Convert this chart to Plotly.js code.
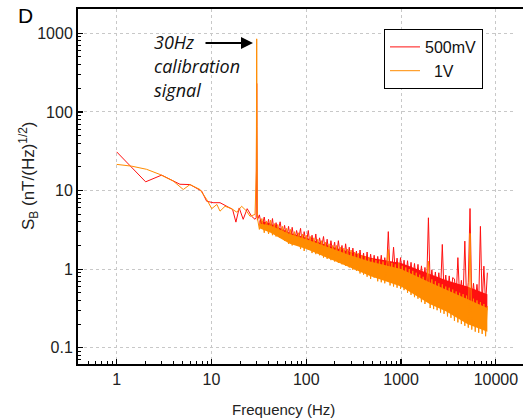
<!DOCTYPE html>
<html>
<head>
<meta charset="utf-8">
<script src="https://cdn.plot.ly/plotly-3.0.1.min.js"></script>
<style>
html,body{margin:0;padding:0;overflow:hidden;background:#fff;}
#chart{width:523px;height:419px;}
</style>
</head>
<body>
<div id="chart"></div>
<script>
// ---- data ----
const seriesNames = ["500mV", "1V"];

// low-frequency part, 500mV
const f500Low  = [1, 2.02, 2.98, 4.65, 5.93, 7.87, 8.9, 10.4, 12.3, 13.9, 15.7, 16.7, 18.1, 19.6, 21.6, 23.8, 26.5, 28.8, 29.6, 30.0, 30.15, 30.5];
const sb500Low = [31, 12.9, 15.7, 12, 11.9, 9.85, 7.3, 7.0, 7.0, 6.45, 6.0, 5.75, 3.96, 6.0, 4.3, 5.87, 4.7, 4.3, 4.5, 230, 65, 4.2];

// low-frequency part, 1V
const f1VLow  = [1, 1.44, 2.07, 2.86, 3.95, 5.04, 5.93, 7.56, 8.9, 10.06, 11.4, 12.3, 13.9, 16.3, 18.5, 20.8, 23.5, 25.5, 28.8, 29.7, 30.0, 30.1, 30.4];
const sb1VLow = [21.5, 20.4, 18.6, 16, 13.2, 10.3, 11.9, 10.3, 7.7, 5.87, 6.65, 5.46, 6.3, 5.87, 5.3, 6.3, 5.46, 4.7, 4.96, 18, 850, 240, 4.6];

// noise part (shared frequency list)
const fNoise = [32, 34, 36, 38, 40, 42, 44, 46, 48, 50,
  53, 56, 59, 62, 65, 68, 71, 75, 79, 83,
  87, 91, 95, 100, 105, 110, 115, 120, 126, 132,
  138, 145, 152, 159, 166, 174, 182, 190, 199, 208,
  218, 228, 238, 249, 260, 272, 284, 297, 310, 324,
  338, 353, 369, 385, 402, 420, 438, 457, 477, 498,
  520, 543, 567, 592, 618, 645, 673, 702, 733, 765,
  798, 833, 869, 907, 946, 987, 1030, 1075, 1121, 1170,
  1220, 1273, 1328, 1385, 1445, 1507, 1572, 1640, 1711, 1785,
  1862, 1942, 2026, 2113, 2204, 2299, 2398, 2501, 2609, 2721,
  2838, 2960, 3087, 3220, 3358, 3502, 3653, 3810, 3974, 4145,
  4323, 4509, 4703, 4905, 5116, 5336, 5565, 5804, 6054, 6314,
  6585, 6868, 7163, 7471, 7792, 8127];

const sb500Noise = [4.9, 3.4, 4.6, 3.1, 4.3, 3.0, 4.4, 2.8, 3.9, 2.9,
  4.0, 2.6, 3.6, 2.5, 3.5, 2.3, 3.4, 2.2, 3.1, 2.4,
  3.3, 2.0, 3.0, 2.1, 3.1, 1.9, 2.7, 1.8, 2.8, 1.7,
  2.5, 1.9, 2.6, 1.6, 2.4, 1.5, 2.3, 1.6, 2.2, 1.4,
  2.3, 1.5, 2.0, 1.3, 2.1, 1.35, 1.9, 1.2, 1.85, 1.25,
  1.7, 1.1, 1.75, 1.15, 1.6, 1.05, 1.65, 1.0, 1.55, 1.05,
  1.5, 0.95, 1.45, 1.0, 1.5, 0.92, 1.4, 0.95, 3.0, 0.9,
  0.95, 1.9, 0.92, 1.38, 0.85, 1.4, 0.82, 1.3, 0.8, 1.28,
  0.76, 1.22, 0.74, 1.18, 0.72, 1.15, 0.68, 1.1, 0.66, 1.05,
  0.63, 4.5, 0.62, 0.98, 0.58, 0.92, 0.55, 0.9, 0.52, 2.06,
  0.5, 0.84, 0.48, 0.82, 0.46, 0.78, 0.75, 0.44, 1.4, 0.43,
  0.72, 0.42, 2.27, 0.41, 0.68, 5.9, 0.39, 0.66, 0.38, 0.64,
  0.37, 3.5, 0.36, 1.09, 0.35, 0.9];

const sb1VNoise = [3.2, 4.4, 2.9, 4.1, 2.8, 4.2, 2.7, 3.8, 2.6, 3.7,
  2.5, 3.5, 2.3, 3.3, 2.1, 3.2, 2.0, 3.0, 2.1, 2.9,
  1.8, 2.8, 1.7, 2.7, 1.75, 2.6, 1.6, 2.5, 1.55, 2.4,
  1.5, 2.3, 1.4, 2.2, 1.35, 2.1, 1.3, 2.0, 1.25, 2.0,
  1.2, 1.9, 1.15, 1.85, 1.1, 1.8, 1.05, 1.75, 0.98, 1.65,
  0.95, 1.6, 0.88, 1.5, 0.85, 1.45, 0.8, 1.4, 0.75, 1.35,
  0.78, 1.3, 0.7, 1.28, 0.68, 1.25, 0.66, 1.2, 1.78, 0.62,
  1.2, 0.6, 1.15, 0.58, 1.2, 0.56, 1.1, 0.54, 1.05, 0.5,
  1.0, 0.47, 0.95, 0.44, 0.9, 0.42, 0.85, 0.38, 0.8, 0.36,
  0.78, 1.26, 0.32, 0.74, 0.31, 0.7, 0.3, 0.66, 0.28, 0.64,
  0.27, 0.6, 0.25, 0.58, 0.24, 0.55, 0.22, 0.52, 0.21, 0.5,
  0.2, 0.48, 0.19, 0.46, 0.18, 2.85, 0.17, 0.42, 0.16, 0.4,
  0.155, 0.38, 0.15, 0.36, 0.14, 0.34];

// dense inner part of each noise band (read envelope)
const fBand       = [32, 42, 67, 100, 180, 290, 470, 1000, 2000, 3000, 5000, 8127];
const sb500BandHi = [4.2, 3.8, 2.9, 2.5, 1.95, 1.65, 1.4, 1.2, 0.88, 0.72, 0.6, 0.48];
const sb500BandLo = [3.5, 3.0, 2.3, 2.0, 1.5, 1.2, 1.0, 0.85, 0.6, 0.5, 0.4, 0.3];
const sb1VBandHi  = [3.8, 3.6, 2.8, 2.4, 1.85, 1.5, 1.25, 1.0, 0.68, 0.55, 0.42, 0.32];
const sb1VBandLo  = [3.3, 2.9, 2.1, 1.8, 1.35, 1.05, 0.82, 0.6, 0.36, 0.29, 0.2, 0.16];

const xTickVals = [1, 10, 100, 1000, 10000];
const xTickText = ["1", "10", "100", "1000", "10000"];
const yTickVals = [0.1, 1, 10, 100, 1000];
const yTickText = ["0.1", "1", "10", "100", "1000"];
const minorDigits = [2, 3, 4, 5, 6, 7, 8, 9];
const xMinorVals = [0.1, 1, 10, 100, 1000].flatMap(d => minorDigits.map(m => m * d)).filter(v => v > 0.4 && v < 19000);
const yMinorVals = [0.01, 0.1, 1, 10, 100, 1000].flatMap(d => minorDigits.map(m => m * d)).filter(v => v > 0.063 && v < 2000);

// ---- plot ----
const FONT = "Liberation Sans, Arial, sans-serif";
const RED = "#ff1010", ORANGE = "#ff8c00", GRID = "#c8c8c8";
const rev = a => a.slice().reverse();
const band = (hi, lo, color) => ({
  x: fBand.concat(rev(fBand)), y: hi.concat(rev(lo)),
  type: "scatter", mode: "lines", fill: "toself", fillcolor: color,
  line: {width: 0, color: color}, showlegend: false, hoverinfo: "skip"
});

const traces = [
  band(sb500BandHi, sb500BandLo, RED),
  {x: f500Low.concat(fNoise), y: sb500Low.concat(sb500Noise), name: seriesNames[0],
   type: "scatter", mode: "lines", line: {color: RED, width: 1}},
  band(sb1VBandHi, sb1VBandLo, ORANGE),
  {x: f1VLow.concat(fNoise), y: sb1VLow.concat(sb1VNoise), name: "\u00a0\u00a0" + seriesNames[1],
   type: "scatter", mode: "lines", line: {color: ORANGE, width: 1}}
];

const W = 523, H = 419, mL = 78, mT = 9, mB = 55;
const pw = W - mL, ph = H - mT - mB;
const px = v => (v - mL) / pw;
const py = v => (H - mB - v) / ph;

const axisCommon = {
  type: "log", showline: true, linecolor: "#000", linewidth: 2,
  ticks: "inside", ticklen: 5, tickwidth: 1.2, tickcolor: "#000",
  showgrid: true, gridcolor: GRID, griddash: "dot", gridwidth: 1,
  zeroline: false, tickmode: "array",
  tickfont: {family: FONT, size: 16, color: "#222"}
};
const minorCommon = {tickmode: "array", ticks: "inside", ticklen: 3, tickcolor: "#000", tickwidth: 1, showgrid: false};

const layout = {
  width: W, height: H,
  margin: {l: mL, r: 0, t: mT, b: mB, pad: 0},
  paper_bgcolor: "#fff", plot_bgcolor: "#fff",
  showlegend: true,
  legend: {x: px(384), y: py(29), xanchor: "left", yanchor: "top",
    bordercolor: "#000", borderwidth: 1, bgcolor: "#fff",
    font: {family: FONT, size: 16, color: "#111"}},
  xaxis: Object.assign({}, axisCommon, {
    range: [-0.408, 4.286], tickvals: xTickVals, ticktext: xTickText, mirror: true,
    minor: Object.assign({}, minorCommon, {tickvals: xMinorVals})
  }),
  yaxis: Object.assign({}, axisCommon, {
    range: [-1.207, 3.309], tickvals: yTickVals, ticktext: yTickText, mirror: false,
    minor: Object.assign({}, minorCommon, {tickvals: yMinorVals})
  }),
  // the panel is cut at its right side: blank out the right strip inside the frame
  shapes: [
    {type: "rect", xref: "paper", yref: "paper", x0: px(514), x1: 1.02, y0: py(362.5), y1: py(10.5),
     fillcolor: "#fff", line: {width: 0}, layer: "above"}
  ],
  annotations: [
    {xref: "paper", yref: "paper", x: px(25), y: py(2), text: "D", showarrow: false,
     xanchor: "center", yanchor: "top", font: {family: FONT, size: 21, color: "#000"}},
    {xref: "paper", yref: "paper", x: px(28), y: py(176), textangle: -90,
     text: "S<sub>B</sub> (nT/(Hz)<sup>1/2</sup>)", showarrow: false,
     xanchor: "center", yanchor: "middle", font: {family: FONT, size: 17, color: "#222"}},
    {xref: "paper", yref: "paper", x: px(283), y: py(409), text: "Frequency (Hz)", showarrow: false,
     xanchor: "center", yanchor: "middle", font: {family: FONT, size: 15, color: "#222"}},
    {xref: "paper", yref: "paper", x: px(152), y: py(42), text: "<i>30Hz</i>", showarrow: false,
     xanchor: "left", yanchor: "middle", font: {family: "Open Sans, sans-serif", size: 18, color: "#111"}},
    {xref: "paper", yref: "paper", x: px(152), y: py(66), text: "<i>calibration</i>", showarrow: false,
     xanchor: "left", yanchor: "middle", font: {family: "Open Sans, sans-serif", size: 18, color: "#111"}},
    {xref: "paper", yref: "paper", x: px(152), y: py(90), text: "<i>signal</i>", showarrow: false,
     xanchor: "left", yanchor: "middle", font: {family: "Open Sans, sans-serif", size: 18, color: "#111"}},
    {xref: "paper", yref: "paper", x: px(253), y: py(43), text: "", showarrow: true,
     ax: -49, ay: 0, arrowhead: 2, arrowsize: 1.2, arrowwidth: 2, arrowcolor: "#000", standoff: 0}
  ]
};

Plotly.newPlot("chart", traces, layout, {displayModeBar: false, staticPlot: true});
</script>
</body>
</html>
